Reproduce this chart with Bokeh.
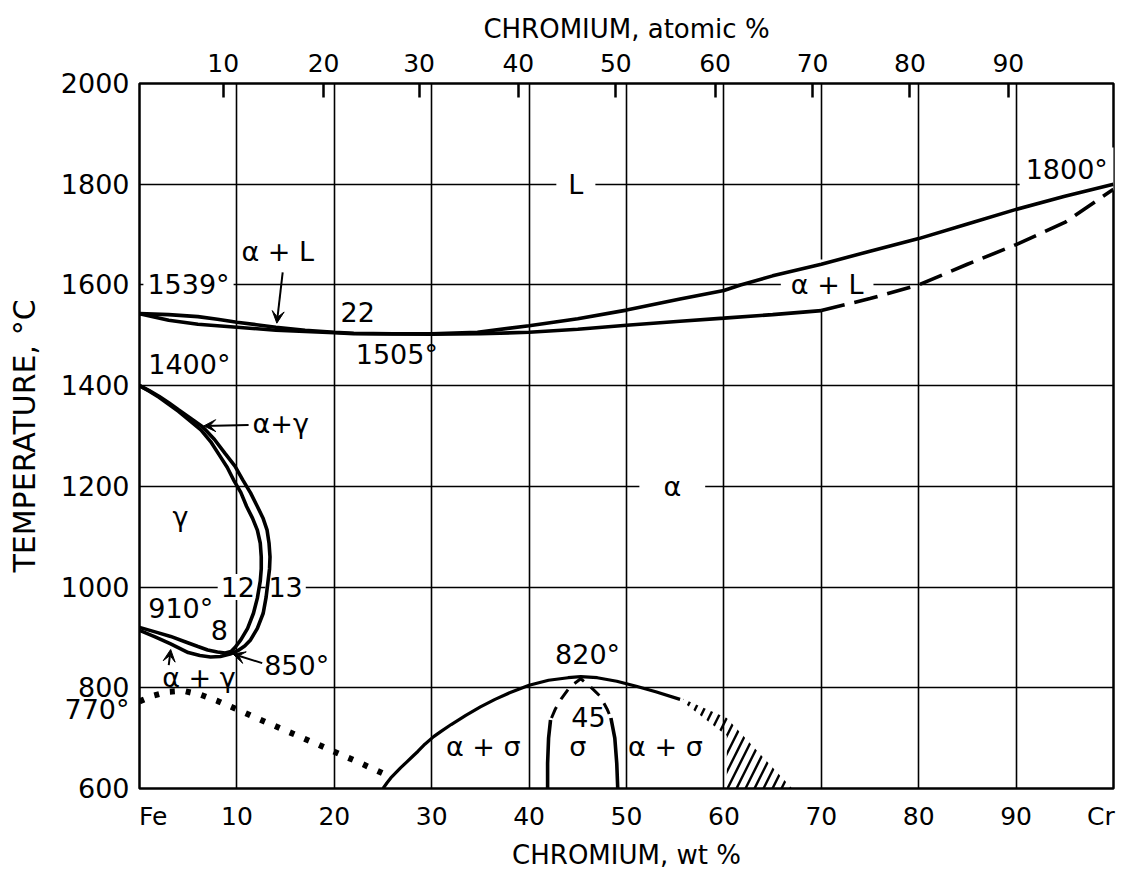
from bokeh.plotting import figure
from bokeh.models import FixedTicker, LinearAxis, Label, Arrow, VeeHead, Range1d
from bokeh.embed import file_html
from bokeh.resources import INLINE

FONT = "DejaVu Sans"

# ---------------- axes data ----------------
wt_ticks = [10, 20, 30, 40, 50, 60, 70, 80, 90]
end_labels = ["Fe", "Cr"]
end_label_pos = [1.4, 98.7]
temp_ticks = [600, 800, 1000, 1200, 1400, 1600, 1800, 2000]
temp_grid = [800, 1000, 1200, 1400, 1600, 1800]
curie_label = "770°"
curie_label_pos = 756
atomic_labels = ["10", "20", "30", "40", "50", "60", "70", "80", "90"]
atomic_pos_wt = [8.6, 18.9, 28.7, 38.9, 48.9, 59.1, 69.1, 79.1, 89.2]

# ---------------- phase boundaries (wt % Cr, deg C) ----------------
liq_x = [0, 3, 6, 8, 10, 12, 14, 17, 20, 22, 26, 30, 34.7, 40, 45, 50, 55.5, 60, 61.7, 65, 70, 75, 80, 85, 90, 95, 100]
liq_T = [1543, 1541, 1537, 1532, 1526, 1521, 1516, 1510, 1506, 1504, 1503, 1503, 1506, 1519, 1533, 1550, 1572, 1589, 1600, 1618, 1641, 1667, 1692, 1721, 1750, 1776, 1800]

sol_x = [0, 3, 6, 10, 14, 20, 22, 30, 35, 40, 45, 50, 55.5, 60, 65, 70]
sol_T = [1543, 1530, 1522, 1516, 1510, 1505, 1503, 1502, 1503, 1506, 1512, 1520, 1528, 1534, 1541, 1549]

sol_dash_x = [70, 75, 80, 85, 90, 95, 100]
sol_dash_T = [1549, 1573, 1600, 1641, 1680, 1724, 1790]

# gamma loop: inner (gamma / alpha+gamma) boundary
gin_x = [0, 1, 2, 3, 4, 5, 6.3, 7.3, 8.2, 9.0, 9.65, 10.4, 11.0, 11.6, 12.1, 12.4, 12.5, 12.5, 12.4, 12.1, 11.7, 11.1, 10.4, 9.8, 9.4, 8.8, 8.0, 7.0, 6.0, 4.6, 3.2, 1.6, 0]
gin_T = [1400, 1389, 1377, 1363, 1349, 1333, 1312, 1289, 1262, 1238, 1213, 1188, 1160, 1137, 1113, 1087, 1060, 1036, 1012, 978, 948, 918, 895, 880, 872, 869, 871, 875, 882, 892, 902, 911, 920]
# gamma loop: outer (alpha+gamma / alpha) boundary
gout_x = [0, 1, 2, 3, 4, 5.2, 6.5, 7.7, 8.8, 9.8, 10.6, 11.4, 12.1, 12.7, 13.1, 13.3, 13.4, 13.35, 13.2, 13.0, 12.7, 12.1, 11.4, 10.8, 10.2, 9.3, 8.3, 7.3, 6.2, 5.0, 3.2, 1.6, 0]
gout_T = [1400, 1390, 1379, 1366, 1352, 1336, 1318, 1293, 1265, 1240, 1213, 1187, 1160, 1136, 1113, 1087, 1060, 1036, 1012, 980, 948, 918, 895, 883, 875, 867, 862, 861, 864, 870, 887, 901, 914]

# magnetic transition (dotted)
mag_x = [0, 1.5, 2.9, 4.5, 6.3, 8, 9.9, 12, 15, 18, 20, 22.5, 25]
mag_T = [773, 785, 792, 794, 786, 774, 758, 740, 715, 690, 673, 652, 630]

# alpha / alpha+sigma dome
dome_x = [25, 25.4, 25.8, 26.3, 26.8, 27.4, 28, 28.6, 29.3, 30.2, 31, 32, 33.5, 35, 36.5, 38, 40, 42, 44, 45.3, 47, 49, 51, 53, 55.5]
dome_T = [600, 611, 621, 631, 641, 652, 663, 674, 688, 703, 714, 727, 745, 762, 777, 790, 805, 815, 820, 822, 820, 813, 803, 792, 777]

# sigma phase boundaries
sigl_x = [41.9, 41.9, 42.0, 42.2]
sigl_T = [600, 650, 700, 736]
sigr_x = [49.1, 49.0, 48.8, 48.4]
sigr_T = [600, 650, 700, 740]
sigd_x = [42.3, 42.7, 43.3, 44.2, 45.3, 46.3, 47.3, 48.0, 48.4]
sigd_T = [740, 758, 778, 802, 818, 802, 783, 758, 740]

# hatched uncertain region
hatch_x = [55.8, 60.3, 67.0, 60.3, 60.3, 55.8]
hatch_T = [778, 740, 600, 600, 705, 772]

# ---------------- figure ----------------
W, H = 1118, 872
p = figure(width=W, height=H, output_backend="svg", toolbar_location=None,
           x_range=Range1d(0, 100), y_range=Range1d(600, 2000),
           min_border_left=139, min_border_right=5, min_border_top=83, min_border_bottom=80)
p.background_fill_color = "white"
p.border_fill_color = "white"
p.outline_line_color = "black"
p.outline_line_width = 2.5

xa = p.xaxis[0]
xa.ticker = FixedTicker(ticks=[end_label_pos[0]] + wt_ticks + [end_label_pos[1]])
xa.major_label_overrides = {pos: t for pos, t in zip(end_label_pos, end_labels)}
xa.major_tick_in = 0
xa.major_tick_out = 0
xa.minor_tick_line_color = None
xa.axis_line_color = None
xa.major_label_text_font = FONT
xa.major_label_text_font_size = "25px"
xa.major_label_text_color = "black"
xa.major_label_standoff = 13
xa.axis_label = "CHROMIUM, wt %"
xa.axis_label_text_font = FONT
xa.axis_label_text_font_style = "normal"
xa.axis_label_text_font_size = "26px"
xa.axis_label_text_color = "black"
xa.axis_label_standoff = 6

ya = p.yaxis[0]
ya.ticker = FixedTicker(ticks=sorted(temp_ticks + [curie_label_pos]))
ya.major_label_overrides = {curie_label_pos: curie_label}
ya.major_tick_in = 0
ya.major_tick_out = 0
ya.minor_tick_line_color = None
ya.axis_line_color = None
ya.major_label_text_font = FONT
ya.major_label_text_font_size = "27px"
ya.major_label_text_color = "black"
ya.major_label_standoff = 10
ya.axis_label = "TEMPERATURE, °C"
ya.axis_label_text_font = FONT
ya.axis_label_text_font_style = "normal"
ya.axis_label_text_font_size = "30px"
ya.axis_label_text_color = "black"
ya.axis_label_standoff = 16

top = LinearAxis(ticker=FixedTicker(ticks=atomic_pos_wt),
                 major_label_overrides={pos: t for pos, t in zip(atomic_pos_wt, atomic_labels)})
top.major_tick_in = 14
top.major_tick_out = 0
top.major_tick_line_width = 2.5
top.major_tick_line_color = "black"
top.minor_tick_line_color = None
top.axis_line_color = None
top.major_label_text_font = FONT
top.major_label_text_font_size = "25px"
top.major_label_text_color = "black"
top.major_label_standoff = 12
top.axis_label = "CHROMIUM, atomic %"
top.axis_label_text_font = FONT
top.axis_label_text_font_style = "normal"
top.axis_label_text_font_size = "26px"
top.axis_label_text_color = "black"
top.axis_label_standoff = 7
p.add_layout(top, "above")

p.xgrid.ticker = FixedTicker(ticks=wt_ticks)
p.ygrid.ticker = FixedTicker(ticks=temp_grid)
for g in (p.xgrid, p.ygrid):
    g.grid_line_color = "black"
    g.grid_line_width = 1.6
    g.grid_line_alpha = 1.0


def lab(text, x, y, align="center", size="27px", bg=False, pad=0):
    kw = dict(x=x, y=y, text=text, text_font=FONT, text_font_size=size,
              text_color="black", text_align=align, text_baseline="middle",
              level="underlay")
    if bg:
        kw.update(background_fill_color="white", background_fill_alpha=1.0, padding=pad)
    p.add_layout(Label(**kw))


# labels that break grid lines
lab("L", 44.8, 1800, bg=True, pad=12)
lab("α", 54.7, 1200, bg=True, pad=24)
lab("α + L", 70.6, 1600, bg=True, pad=10)
lab("1539°", 0.4, 1600, align="left", bg=True, pad=4)
lab("12", 10.1, 1000, bg=True, pad=3)
lab("13", 15.0, 1000, bg=True, pad=3)
lab("1800°", 95.2, 1830, bg=True, pad=6)

# curves
LW = 3.6
p.line(liq_x, liq_T, line_color="black", line_width=LW)
p.line(sol_x, sol_T, line_color="black", line_width=LW)
p.line(sol_dash_x, sol_dash_T, line_color="black", line_width=LW, line_dash="24 10")
p.line(gin_x, gin_T, line_color="black", line_width=LW)
p.line(gout_x, gout_T, line_color="black", line_width=LW)
p.line(mag_x, mag_T, line_color="black", line_width=6, line_dash="5 11")
p.line(dome_x, dome_T, line_color="black", line_width=3.2)
p.line(sigl_x, sigl_T, line_color="black", line_width=LW)
p.line(sigr_x, sigr_T, line_color="black", line_width=LW)
p.line(sigd_x, sigd_T, line_color="black", line_width=3.0, line_dash="12 9")
p.patch(hatch_x, hatch_T, fill_color=None, line_color=None,
        hatch_pattern="/", hatch_color="black", hatch_weight=2.4, hatch_scale=18)

# other labels
lab("α + L", 14.2, 1666)
lab("22", 22.4, 1546)
lab("1505°", 22.2, 1461, align="left")
lab("1400°", 0.9, 1441, align="left")
lab("α+γ", 11.6, 1325, align="left")
lab("γ", 4.2, 1141)
lab("910°", 0.9, 957, align="left")
lab("8", 8.2, 914)
lab("850°", 12.8, 845, align="left")
lab("α + γ", 6.1, 821)
lab("820°", 46.0, 867)
lab("45", 46.1, 742)
lab("α + σ", 35.3, 683)
lab("σ", 45.0, 683)
lab("α + σ", 54.0, 683)


def arr(x0, y0, x1, y1):
    p.add_layout(Arrow(x_start=x0, y_start=y0, x_end=x1, y_end=y1,
                       line_color="black", line_width=2,
                       end=VeeHead(size=12, fill_color="black", line_color="black")))


arr(14.7, 1625, 14.1, 1524)
arr(11.2, 1322, 6.6, 1320)
arr(12.6, 849, 9.6, 867)
arr(3.0, 845, 3.2, 876)

open("out.html", "w").write(file_html(p, INLINE))
